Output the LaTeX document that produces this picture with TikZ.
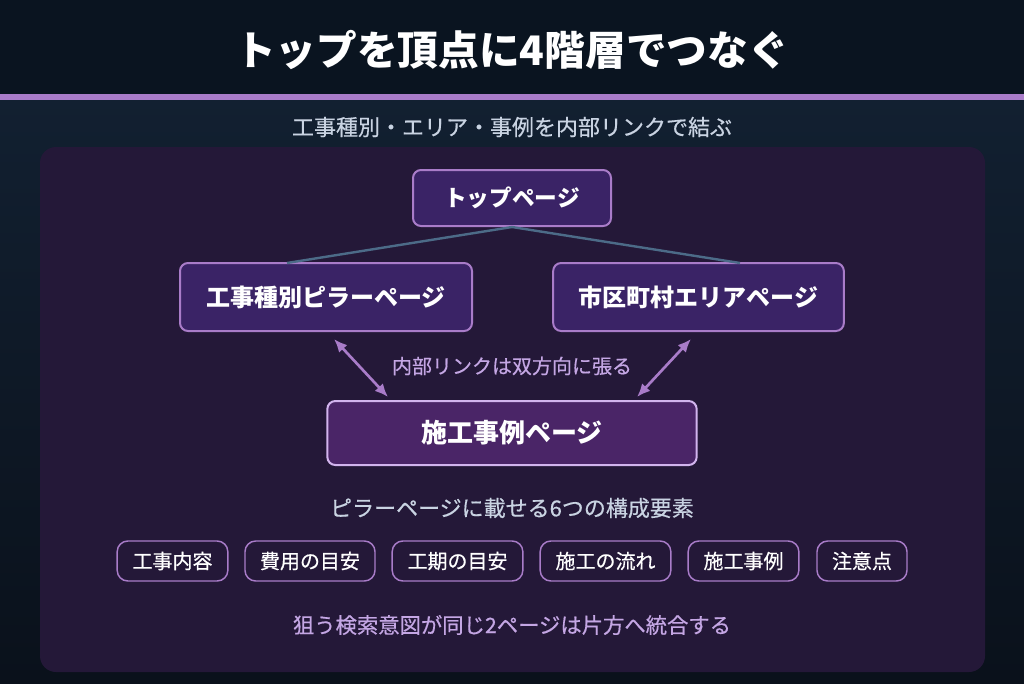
\documentclass[tikz,border=0pt]{standalone}
\usepackage{fontspec}
\setmainfont{Noto Sans CJK JP}
\newfontfamily\medfont[FakeBold=0.5]{Noto Sans CJK JP}
\usetikzlibrary{arrows.meta}

\definecolor{hdrbg}{HTML}{0A1420}
\definecolor{bodytop}{HTML}{122031}
\definecolor{bodybot}{HTML}{0A111B}
\definecolor{panelbg}{HTML}{241838}
\definecolor{accent}{HTML}{A97CC9}
\definecolor{pagefill}{HTML}{3A2366}
\definecolor{casefill}{HTML}{4A2567}
\definecolor{caseline}{HTML}{D2B4EE}
\definecolor{treeline}{HTML}{4C6B88}
\definecolor{subtxt}{HTML}{C9D3E2}
\definecolor{notetxt}{HTML}{C4A6E4}

\tikzset{
  pagebox/.style={draw=accent, line width=1.5pt, fill=pagefill, rounded corners=6pt,
    text=white, font=\bfseries, inner sep=0pt},
  casebox/.style={pagebox, draw=caseline, fill=casefill},
  chipbox/.style={draw=accent, line width=1.1pt, rounded corners=8pt, text=white,
    font=\fontsize{15pt}{17pt}\medfont, minimum height=30pt, inner sep=0pt},
  treelink/.style={draw=treeline, line width=1.8pt},
  duallink/.style={draw=accent, line width=2pt, {Latex[length=10pt,width=8.5pt]}-{Latex[length=10pt,width=8.5pt]}}
}

\begin{document}
\begin{tikzpicture}[x=0.75pt, y=-0.75pt]
% background
\useasboundingbox (0,0) rectangle (1024,683);
\shade[top color=bodytop, bottom color=bodybot] (0,95) rectangle (1024,683);
\fill[hdrbg] (0,0) rectangle (1024,95);
\fill[accent] (0,94) rectangle (1024,100);
\fill[panelbg, rounded corners=12pt] (40,147) rectangle (985,672);

% header
\node (title) at (512,50) [text=white, font=\fontsize{30.5pt}{33pt}\selectfont\bfseries] {トップを頂点に4階層でつなぐ};
\node (subtitle) at (512,127) [text=subtxt, font=\fontsize{16.5pt}{18pt}\medfont] {工事種別・エリア・事例を内部リンクで結ぶ};

% pages
\node (top) at (512,198) [pagebox, minimum width=148.5pt, minimum height=42pt, font=\fontsize{17pt}{19pt}\selectfont\bfseries] {トップページ};
\node (pillar) at (326,297) [pagebox, minimum width=219pt, minimum height=51pt, font=\fontsize{18pt}{20pt}\selectfont\bfseries] {工事種別ピラーページ};
\node (area) at (698.5,297) [pagebox, minimum width=218pt, minimum height=51pt, font=\fontsize{18pt}{20pt}\selectfont\bfseries] {市区町村エリアページ};
\node (case) at (512,433) [casebox, minimum width=277pt, minimum height=48pt, font=\fontsize{19.5pt}{21pt}\selectfont\bfseries] {施工事例ページ};

\coordinate (pillarin) at (287,263);
\coordinate (areain) at (740,263);
\draw[treelink] (top.south) -- (pillarin);
\draw[treelink] (top.south) -- (areain);

\coordinate (pillarout) at (334,339);
\coordinate (areaout) at (691,339);
\coordinate (casel) at (388,397);
\coordinate (caser) at (637,397);
\draw[duallink] (pillarout) -- (casel);
\draw[duallink] (areaout) -- (caser);
\node (linknote) at (512,366) [text=notetxt, font=\fontsize{15pt}{17pt}\medfont] {内部リンクは双方向に張る};

% pillar contents
\node (elemhead) at (512,508) [text=subtxt, font=\fontsize{16.5pt}{18pt}\medfont] {ピラーページに載せる6つの構成要素};
\node (e1) at (172.5,561) [chipbox, minimum width=83pt] {工事内容};
\node (e2) at (310,561) [chipbox, minimum width=97.5pt] {費用の目安};
\node (e3) at (457.5,561) [chipbox, minimum width=98pt] {工期の目安};
\node (e4) at (605.5,561) [chipbox, minimum width=98pt] {施工の流れ};
\node (e5) at (743.5,561) [chipbox, minimum width=83pt] {施工事例};
\node (e6) at (862,561) [chipbox, minimum width=67.5pt] {注意点};

\node (mergenote) at (512,625) [text=notetxt, font=\fontsize{16pt}{18pt}\medfont] {狙う検索意図が同じ2ページは片方へ統合する};
\end{tikzpicture}
\end{document}
